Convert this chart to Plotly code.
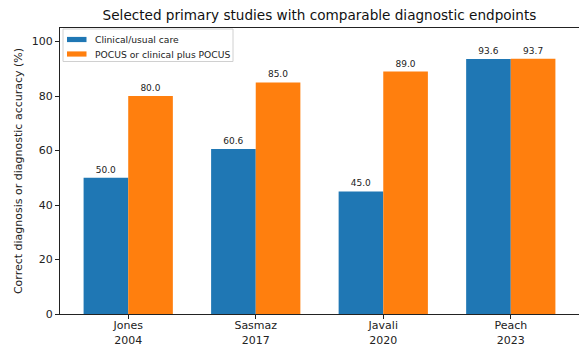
import plotly.graph_objects as go

studies = ["Jones<br>2004", "Sasmaz<br>2017", "Javali<br>2020", "Peach<br>2023"]
positions = [0, 1, 2, 3]
clinical = [50.0, 60.6, 45.0, 93.6]
pocus = [80.0, 85.0, 89.0, 93.7]
series_names = ["Clinical/usual care", "POCUS or clinical plus POCUS"]
colors = ["#1f77b4", "#ff7f0e"]
yticks = [0, 20, 40, 60, 80, 100]

FONT = "DejaVu Sans, sans-serif"
W, H = 579, 346
ML, MR, MT, MB = 60, 0, 28, 32
PW, PH = W - ML - MR, H - MT - MB
w = 0.35


def px_x(px):
    return (px - ML) / PW


def px_y(py):
    return (H - MB - py) / PH


fig = go.Figure()
for vals, off, name, col in [(clinical, -w, series_names[0], colors[0]),
                             (pocus, 0, series_names[1], colors[1])]:
    fig.add_trace(go.Bar(
        x=positions, y=vals, name=name, width=w, offset=off, showlegend=False,
        marker=dict(color=col, line=dict(width=0)),
        text=[f"{v:.1f}" for v in vals], textposition="outside",
        textfont=dict(size=9, color="#222"), cliponaxis=False,
    ))

# matplotlib-style compact legend box
shapes = [dict(type="rect", xref="paper", yref="paper",
               x0=px_x(63), x1=px_x(233), y0=px_y(61.5), y1=px_y(29),
               fillcolor="rgba(255,255,255,0.8)", line=dict(color="#d0d0d0", width=1),
               layer="above")]
annotations = []
for i, (name, col) in enumerate(zip(series_names, colors)):
    cy = 39.5 + i * 14.5
    shapes.append(dict(type="rect", xref="paper", yref="paper",
                       x0=px_x(67), x1=px_x(86.5), y0=px_y(cy + 2.6), y1=px_y(cy - 2.6),
                       fillcolor=col, line=dict(width=0), layer="above"))
    annotations.append(dict(text=name, xref="paper", yref="paper",
                            x=px_x(93), y=px_y(cy), xanchor="left", yanchor="middle",
                            showarrow=False, font=dict(size=9.2, color="#222")))

fig.update_layout(
    width=W, height=H,
    margin=dict(l=ML, r=MR, t=MT, b=MB),
    paper_bgcolor="white", plot_bgcolor="white",
    font=dict(family=FONT, color="#222"),
    title=dict(text="Selected primary studies with comparable diagnostic endpoints",
               x=0.5, xref="paper", xanchor="center", y=0.955, yanchor="middle",
               font=dict(size=13.6, color="#111")),
    barmode="overlay",
    showlegend=False,
    shapes=shapes,
    annotations=annotations,
    xaxis=dict(range=[-0.535, 3.535], tickvals=positions, ticktext=studies,
               showline=True, linecolor="#222", linewidth=1, mirror=True,
               ticks="outside", ticklen=4, tickcolor="#222", automargin=False,
               ticklabelstandoff=-3,
               tickfont=dict(size=11), showgrid=False, zeroline=False),
    yaxis=dict(range=[0, 105], tickvals=yticks,
               showline=True, linecolor="#222", linewidth=1, automargin=False,
               ticks="outside", ticklen=4, tickcolor="#222",
               tickfont=dict(size=11), showgrid=False, zeroline=False,
               title=dict(text="Correct diagnosis or diagnostic accuracy (%)",
                          font=dict(size=11), standoff=6)),
)

fig.write_html("out.html", config={"displayModeBar": False},
               post_script="document.body.style.margin='0';document.body.style.overflow='hidden';")
